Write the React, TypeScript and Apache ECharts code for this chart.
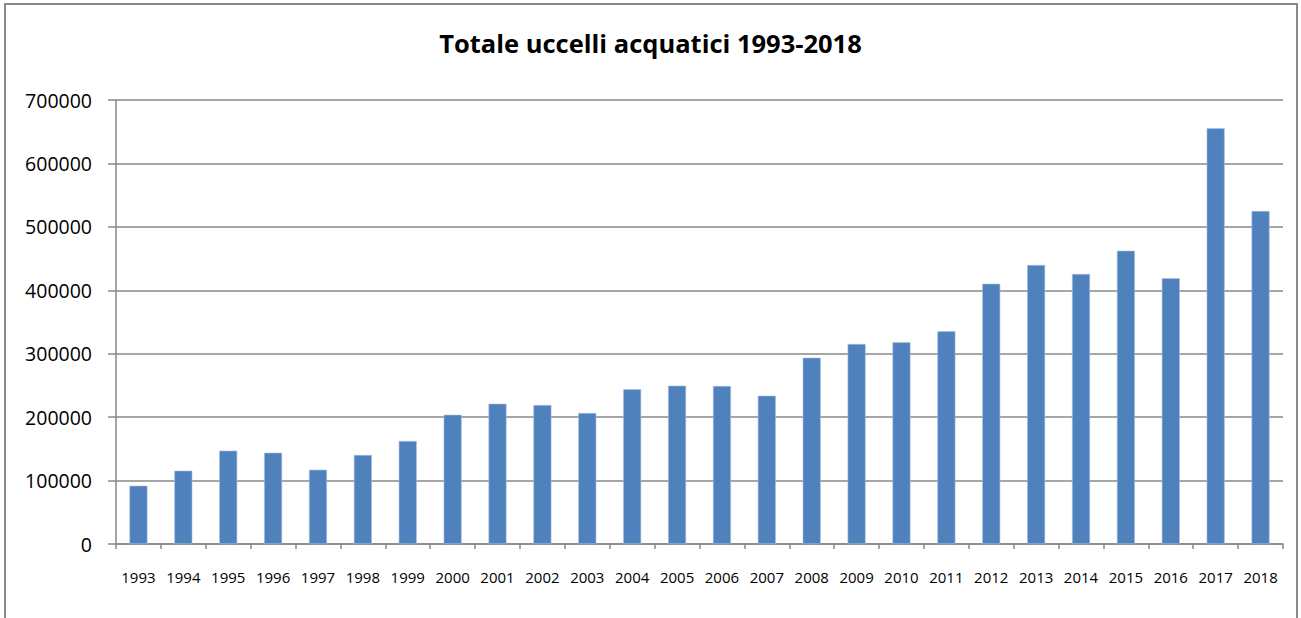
import React, { useEffect, useRef } from "react";
import * as echarts from "echarts";

const years = [
  "1993", "1994", "1995", "1996", "1997", "1998", "1999", "2000", "2001",
  "2002", "2003", "2004", "2005", "2006", "2007", "2008", "2009", "2010",
  "2011", "2012", "2013", "2014", "2015", "2016", "2017", "2018",
];
const totals = [
  91900, 115600, 147100, 143900, 117100, 140300, 162400, 203800, 221200,
  219100, 206500, 243900, 249600, 249100, 233800, 293700, 315300, 318000,
  335300, 410400, 439900, 425700, 462400, 418900, 655400, 525000,
];
const titleText = "Totale uccelli acquatici 1993-2018";
const yMin = 0;
const yMax = 700000;
const yStep = 100000;

export default function App() {
  const ref = useRef<HTMLDivElement>(null);
  useEffect(() => {
    if (!ref.current) return;
    const chart = echarts.init(ref.current, null, { renderer: "svg" });
    const gray = "#898989";
    chart.setOption({
      animation: false,
      backgroundColor: "#ffffff",
      textStyle: { fontFamily: "Open Sans" },
      title: {
        text: titleText,
        left: "center",
        top: 25,
        textStyle: {
          fontFamily: "Open Sans",
          fontWeight: "bold",
          fontSize: 25.5,
          color: "#000",
        },
      },
      graphic: [
        {
          type: "rect",
          shape: { x: 5, y: 4, width: 1292, height: 700 },
          style: { fill: "none", stroke: gray, lineWidth: 2 },
          silent: true,
        },
      ],
      grid: {
        left: 116,
        right: 18,
        top: 100,
        bottom: 74,
        containLabel: false,
        outerBoundsMode: "none",
      },
      xAxis: {
        type: "category",
        data: years,
        boundaryGap: true,
        axisLine: { show: true, lineStyle: { color: gray, width: 1.5 } },
        axisTick: { show: true, length: 5, lineStyle: { color: gray, width: 1.5 } },
        axisLabel: {
          margin: 25,
          fontSize: 15,
          color: "#000",
          fontFamily: "Open Sans",
          interval: 0,
        },
        splitLine: { show: false },
      },
      yAxis: {
        type: "value",
        min: yMin,
        max: yMax,
        interval: yStep,
        axisLine: { show: true, lineStyle: { color: gray, width: 1.5 } },
        axisTick: { show: true, length: 8, lineStyle: { color: gray, width: 1.5 } },
        axisLabel: {
          margin: 24,
          fontSize: 19.5,
          color: "#000",
          fontFamily: "Open Sans",
          formatter: (v: number) => String(v),
        },
        splitLine: { show: true, lineStyle: { color: gray, width: 1.5 } },
      },
      series: [
        {
          type: "bar",
          data: totals,
          barWidth: 18,
          itemStyle: { color: "#4F81BD", borderColor: "#a9c0e0", borderWidth: 0.6 },
        },
      ],
    });
    return () => chart.dispose();
  }, []);
  return (
    <div
      ref={ref}
      style={{ position: "fixed", left: 0, top: 0, width: 1301, height: 618 }}
    />
  );
}
